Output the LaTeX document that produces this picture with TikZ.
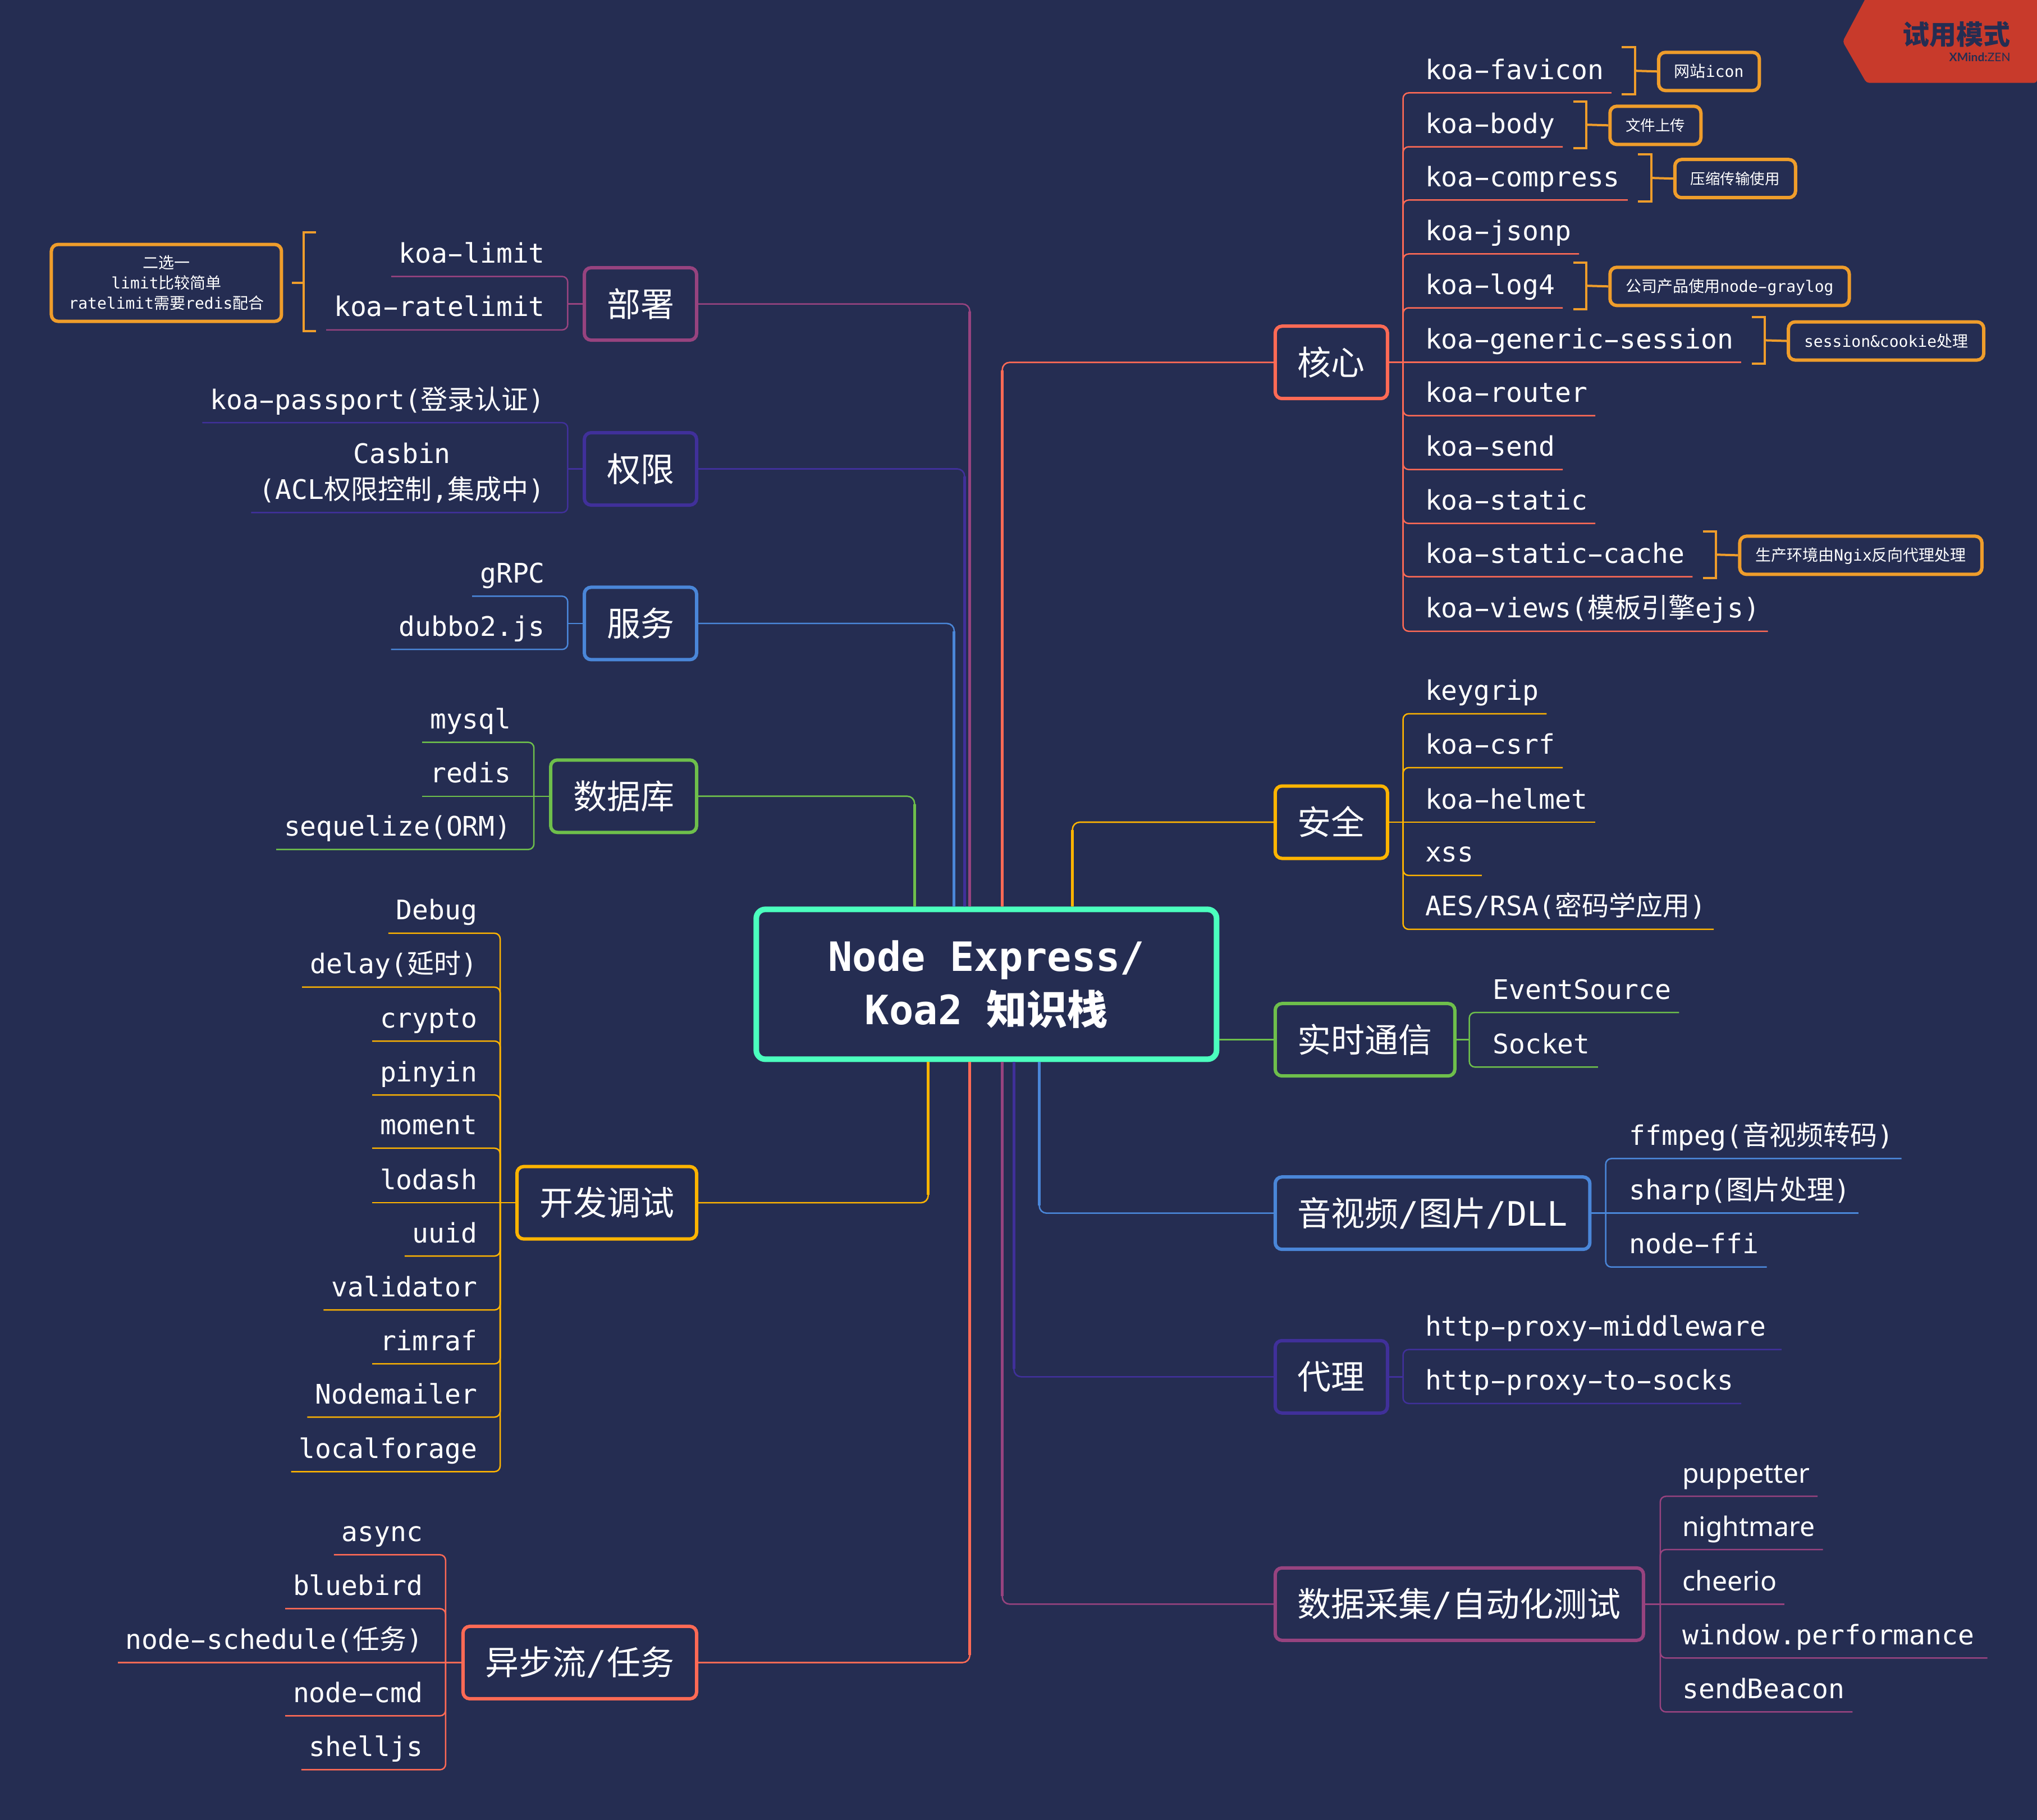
\documentclass[tikz,border=0pt]{standalone}
\usepackage{fontspec}
\usepackage{graphicx}
\usetikzlibrary{calc}
\setmainfont{DejaVu Sans Mono}
\newfontfamily\cj{Noto Sans CJK SC}
\newfontfamily\ns{Noto Sans}
\newfontfamily\la{Lato}
\newcommand\zh[1]{{\cj #1}}
\newcommand\zn[1]{{\cj\fontsize{26.5}{26.5}\selectfont #1}}
\newcommand\widehy{\makebox[0.602em][c]{\scalebox{1.8}[1]{-}}}
\ExplSyntaxOn
\NewDocumentCommand\hyfix{m}{\tl_set:Nn \l_tmpa_tl {#1}\tl_replace_all:Nnn \l_tmpa_tl {-} {\widehy}\tl_use:N \l_tmpa_tl}
\ExplSyntaxOff
\definecolor{bgc}{HTML}{252D52}
\definecolor{cred}{HTML}{FF6A55}
\definecolor{cyel}{HTML}{FFB400}
\definecolor{cgre}{HTML}{6EBF4B}
\definecolor{cblu}{HTML}{4A86D8}
\definecolor{cind}{HTML}{40309A}
\definecolor{cmag}{HTML}{97437F}
\definecolor{cnot}{HTML}{EF9D2B}
\definecolor{cmid}{HTML}{4BFFBE}
\definecolor{cmark}{HTML}{C83A2B}
\tikzset{
  centerbox/.style={draw=cmid,fill=bgc,text=white,line width=10pt,rounded corners=16pt,
    minimum width=820pt,minimum height=267pt,inner sep=0pt,align=center,
    font={\fontsize{72}{95}\selectfont\bfseries}},
  topic/.style={draw=#1,fill=bgc,text=white,line width=6pt,rounded corners=12pt,
    inner xsep=40pt,inner ysep=0pt,minimum height=129pt,text height=45pt,text depth=0pt,
    font={\fontsize{60}{60}\selectfont}},
  leaf/.style={text=white,inner xsep=14pt,inner ysep=0pt,outer sep=0pt,
    text height=37pt,text depth=24pt,font={\fontsize{48}{48}\selectfont}},
  leafmulti/.style={text=white,inner xsep=14pt,inner ysep=0pt,outer sep=0pt,align=center,
    font={\fontsize{48}{64}\selectfont}},
  notebox/.style={draw=cnot,text=white,line width=6pt,rounded corners=12pt,
    inner xsep=28pt,inner ysep=0pt,minimum height=68pt,text height=21pt,text depth=0pt,
    font={\fontsize{28}{28}\selectfont}},
  notemulti/.style={draw=cnot,text=white,line width=6pt,rounded corners=12pt,
    inner xsep=31pt,inner ysep=0pt,minimum height=137pt,align=center,
    font={\fontsize{28}{36}\selectfont}},
  link/.style={draw=#1,line width=2.5pt,rounded corners=10pt},
  mainlink/.style={draw=#1,line width=2.6pt,rounded corners=13pt},
  mainthick/.style={draw=#1,line width=5pt},
  brk/.style={draw=cnot,line width=4pt},
}
\newcommand\rk[4]{\node[leaf,anchor=south west] (#1) at (#2,#3) {\hyfix{#4}};}
\newcommand\lk[4]{\node[leaf,anchor=south east,xshift=1.2pt] (#1) at (#2,#3) {\hyfix{#4}};}
\newcommand\noteon[3]{%
  \node[notebox,anchor=west] (#2) at ($(#1.south east)+(35,-16.5)$) {\hyfix{#3}};
  \draw[brk] ($(#1.south east)+(8,-35)$) -- ($(#1.south east)+(18,-35)$) -- ($(#1.south east)+(18,1)$) -- ($(#1.south east)+(8,1)$);
  \draw[brk] (#2.west) -- ($(#1.south east)+(18,-17)$);}
\begin{document}
\begin{tikzpicture}[x=2.3144pt,y=-2.3144pt]
\useasboundingbox[fill=bgc] (0,0) rectangle (1568,1401.2);
% watermark
\fill[cmark,rounded corners=5pt] (1437.5,-4) -- (1418.4,32) -- (1436.7,63.8) -- (1568,63.8) -- (1568,-4) -- cycle;
\node[anchor=base east,inner sep=0pt,text=bgc,font={\fontsize{48}{48}\selectfont\cj\bfseries}] (markzh) at (1547.6,34.5) {试用模式};
\node[anchor=base east,inner sep=0pt,text=bgc,font={\fontsize{21}{21}\selectfont\la}] (markxm) at (1547.6,47.5) {\textbf{XMind:}ZEN};

% centre
\node[centerbox] (ctr) at (759.3,757.8) {\raisebox{1.5pt}{Node Express/}\\\raisebox{1.5pt}{Koa2 \zh{知识栈}}};

% topics right
\node[topic=cred,anchor=west] (core) at (980.3,279) {\zh{核心}};
\node[topic=cyel,anchor=west] (safe) at (980.3,633) {\zh{安全}};
\node[topic=cgre,anchor=west] (rt) at (980.3,800.5) {\zh{实时通信}};
\node[topic=cblu,anchor=west] (av) at (980.3,934) {\zh{音视频}/\zh{图片}/DLL};
\node[topic=cind,anchor=west] (proxy) at (980.3,1060) {\zh{代理}};
\node[topic=cmag,anchor=west] (crawl) at (980.3,1235) {\zh{数据采集}/\zh{自动化测试}};
% topics left
\node[topic=cmag,anchor=east] (deploy) at (537.5,234) {\zh{部署}};
\node[topic=cind,anchor=east] (auth) at (537.5,361) {\zh{权限}};
\node[topic=cblu,anchor=east] (svc) at (537.5,480) {\zh{服务}};
\node[topic=cgre,anchor=east] (dbase) at (537.5,613) {\zh{数据库}};
\node[topic=cyel,anchor=east] (dev) at (537.5,926) {\zh{开发调试}};
\node[topic=cred,anchor=east] (async) at (537.5,1280) {\zh{异步流}/\zh{任务}};

% main connectors
\foreach \col/\xx/\tp/\sd/\off in {
  cred/771.5/core.west/north/6, cyel/825.5/safe.west/north/6,
  cmag/746.5/deploy.east/north/6, cind/742.5/auth.east/north/6,
  cblu/734.5/svc.east/north/6, cgre/704/dbase.east/north/6,
  cblu/800/av.west/south/-6, cind/780.5/proxy.west/south/-6,
  cmag/771.5/crawl.west/south/-6, cyel/714.5/dev.east/south/-6,
  cred/746.5/async.east/south/-6}{
  \coordinate (vx) at (\xx,0);
  \draw[mainlink=\col] (ctr.\sd -| vx) |- (\tp);
  \draw[mainthick=\col] (ctr.\sd -| vx) -- ($(vx |- \tp)+(0,\off)$);
}
\draw[link=cgre] (ctr.east |- rt.west) -- (rt.west);

% --- core children
\rk{ca}{1091}{71.5}{koa-favicon}
\rk{cb}{1091}{113}{koa-body}
\rk{cc}{1091}{154}{koa-compress}
\rk{cd}{1091}{195.5}{koa-jsonp}
\rk{ce}{1091}{237}{koa-log4}
\rk{cf}{1091}{279}{koa-generic-session}
\rk{cg}{1091}{320}{koa-router}
\rk{ch}{1091}{361.5}{koa-send}
\rk{ci}{1091}{403}{koa-static}
\rk{cj}{1091}{444}{koa-static-cache}
\rk{ck}{1091}{486}{koa-views(\zh{模板引擎}ejs)}
\coordinate (sp1) at (1080,279);
\draw[link=cred] (core.east) -- (cf.south east);
\foreach \n in {ca,cb,cc,cd,ce,cg,ch,ci,cj,ck}{\draw[link=cred] (sp1) |- (\n.south east);}
\noteon{ca}{na}{\zh{网站}icon}
\noteon{cb}{nb}{\zn{文件上传}}
\noteon{cc}{nc}{\zn{压缩传输使用}}
\noteon{ce}{ne}{\zh{公司产品使用}node-graylog}
\noteon{cf}{nf}{session\&cookie\zh{处理}}
\noteon{cj}{nj}{\zh{生产环境由}Ngix\zh{反向代理处理}}

% --- safety children
\rk{sa}{1091}{549.5}{keygrip}
\rk{sb}{1091}{591}{koa-csrf}
\rk{sc}{1091}{633}{koa-helmet}
\rk{sd}{1091}{674}{xss}
\rk{se}{1091}{715.5}{AES/RSA(\zh{密码学应用})}
\coordinate (sp2) at (1080,633);
\draw[link=cyel] (safe.east) -- (sc.south east);
\foreach \n in {sa,sb,sd,se}{\draw[link=cyel] (sp2) |- (\n.south east);}

% --- realtime children
\rk{ra}{1143}{779.5}{EventSource}
\rk{rb}{1143}{821.5}{Socket}
\coordinate (sp3) at (1131,800.5);
\draw[link=cgre] (rt.east) -- (sp3);
\foreach \n in {ra,rb}{\draw[link=cgre] (sp3) |- (\n.south east);}

% --- av children
\rk{aa}{1248}{892}{ffmpeg(\zh{音视频转码})}
\rk{ab}{1248}{934}{sharp(\zh{图片处理})}
\rk{ac}{1248}{975.5}{node-ffi}
\coordinate (sp4) at (1236,934);
\draw[link=cblu] (av.east) -- (ab.south east);
\foreach \n in {aa,ac}{\draw[link=cblu] (sp4) |- (\n.south east);}

% --- proxy children
\rk{pa}{1091}{1039}{http-proxy-middleware\kern14pt}
\rk{pb}{1091}{1080.5}{http-proxy-to-socks}
\coordinate (sp5) at (1080,1060);
\draw[link=cind] (proxy.east) -- (sp5);
\foreach \n in {pa,pb}{\draw[link=cind] (sp5) |- (\n.south east);}

% --- crawl children
\rk{ga}{1289}{1152}{\ns puppetter}
\rk{gb}{1289}{1193}{\ns nightmare}
\rk{gc}{1289}{1235}{\ns cheerio}
\rk{gd}{1289}{1276.5}{window.performance\kern9pt}
\rk{ge}{1289}{1318}{sendBeacon}
\coordinate (sp6) at (1278,1235);
\draw[link=cmag] (crawl.east) -- (gc.south east);
\foreach \n in {ga,gb,gd,ge}{\draw[link=cmag] (sp6) |- (\n.south east);}

% --- deploy children
\lk{dpa}{425}{212.8}{koa-limit}
\lk{dpb}{425}{254}{koa-ratelimit}
\coordinate (sp7) at (437,234);
\draw[link=cmag] (deploy.west) -- (sp7);
\foreach \n in {dpa,dpb}{\draw[link=cmag] (sp7) |- (\n.south west);}
\node[notemulti] (dn) at (128.1,217.8) {\zh{二选一}\\limit\zh{比较简单}\\ratelimit\zh{需要}redis\zh{配合}};
\coordinate (dbt) at (233.6,179);
\coordinate (dbb) at (233.6,255);
\coordinate (dbs) at (224.6,217.8);
\draw[brk] ($(dbt)+(9.7,0)$) -- (dbt) -- (dbb) -- ($(dbb)+(9.7,0)$);
\draw[brk] (dbs) -- (dbs -| dbt);

% --- auth children
\lk{ua}{425}{325.4}{koa-passport(\zh{登录认证})}
\node[leafmulti,anchor=south east,xshift=1.2pt] (ub) at (425,394.6) {Casbin\\(ACL\zh{权限控制},\zh{集成中})\rule[-24pt]{0pt}{24pt}};
\coordinate (sp8) at (437,361);
\draw[link=cind] (auth.west) -- (sp8);
\foreach \n in {ua,ub}{\draw[link=cind] (sp8) |- (\n.south west);}

% --- service children
\lk{va}{425}{459}{gRPC}
\lk{vb}{425}{500}{dubbo2.js}
\coordinate (sp9) at (437,480);
\draw[link=cblu] (svc.west) -- (sp9);
\foreach \n in {va,vb}{\draw[link=cblu] (sp9) |- (\n.south west);}

% --- database children
\lk{ba}{399}{571.5}{mysql}
\lk{bb}{399}{613}{redis}
\lk{bc}{399}{654}{sequelize(ORM)}
\coordinate (sp10) at (411,613);
\draw[link=cgre] (dbase.west) -- (bb.south west);
\foreach \n in {ba,bc}{\draw[link=cgre] (sp10) |- (\n.south west);}

% --- dev children
\lk{ea}{373}{718.5}{Debug}
\lk{eb}{373}{760}{delay(\zh{延时})}
\lk{ec}{373}{801.5}{crypto}
\lk{ed}{373}{843}{pinyin}
\lk{ee}{373}{884}{moment}
\lk{ef}{373}{926}{lodash}
\lk{eg}{373}{967}{uuid}
\lk{eh}{373}{1008.5}{validator}
\lk{ei}{373}{1050}{rimraf}
\lk{ej}{373}{1091}{Nodemailer}
\lk{ek}{373}{1133}{localforage}
\coordinate (sp11) at (385,926);
\draw[link=cyel] (dev.west) -- (ef.south west);
\foreach \n in {ea,eb,ec,ed,ee,eg,eh,ei,ej,ek}{\draw[link=cyel] (sp11) |- (\n.south west);}

% --- async children
\lk{fa}{331}{1197}{async}
\lk{fb}{331}{1238.5}{bluebird}
\lk{fc}{331}{1280}{node-schedule(\zh{任务})}
\lk{fd}{331}{1321}{node-cmd}
\lk{fe}{331}{1362.5}{shelljs}
\coordinate (sp12) at (343,1280);
\draw[link=cred] (async.west) -- (fc.south west);
\foreach \n in {fa,fb,fd,fe}{\draw[link=cred] (sp12) |- (\n.south west);}
\end{tikzpicture}
\end{document}
